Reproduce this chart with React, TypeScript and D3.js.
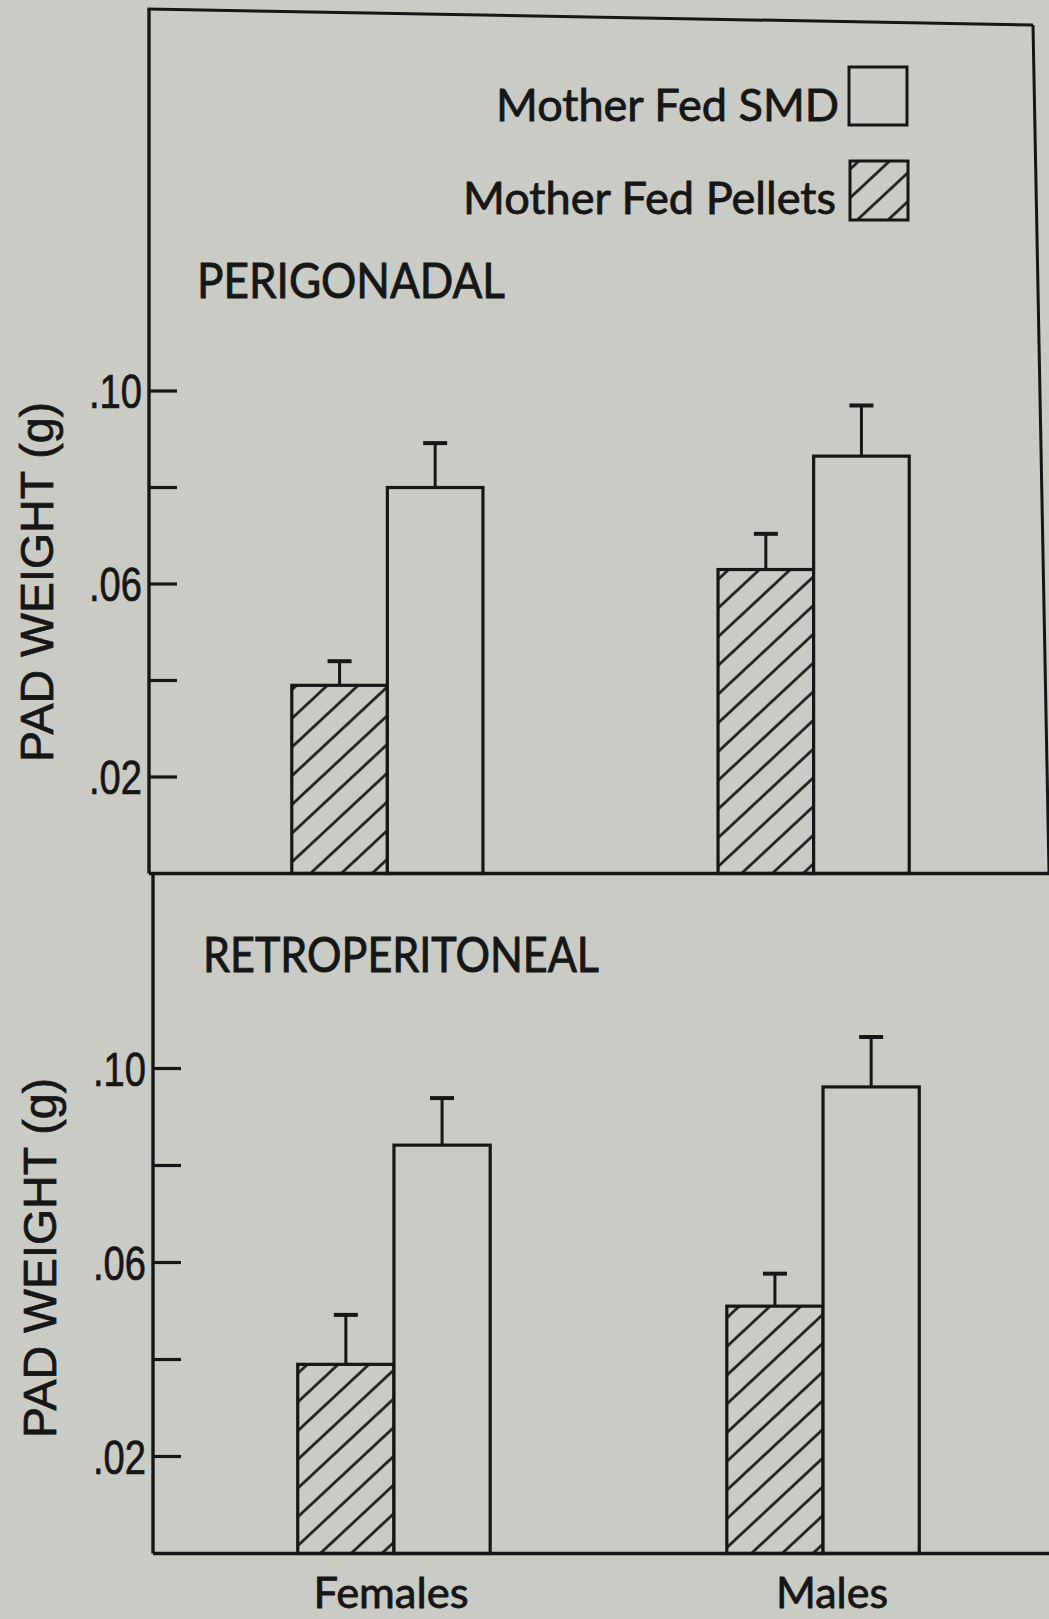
import React from "react";
import * as d3 from "d3";

// Groups and series
const categories = ["Females", "Males"];
const seriesKeys = ["pellets", "smd"];
const legendLabels = ["Mother Fed SMD", "Mother Fed Pellets"];

// Perigonadal pad weight (g), mean and SE
const periPellets = [0.039, 0.063];
const periPelletsSE = [0.005, 0.0074];
const periSMD = [0.08, 0.0865];
const periSMDSE = [0.0092, 0.0105];

// Retroperitoneal pad weight (g), mean and SE
const retroPellets = [0.039, 0.051];
const retroPelletsSE = [0.0102, 0.0067];
const retroSMD = [0.0842, 0.0962];
const retroSMDSE = [0.0097, 0.0103];

// Axis ticks
const yTicks = [0.02, 0.04, 0.06, 0.08, 0.1];
const yTickLabels = [".02", "", ".06", "", ".10"];

const W = 1049;
const H = 1619;
const BG = "#cacbc4";
const INK = "#161616";
const SANS = "Lato, 'Open Sans', sans-serif";

type Panel = {
  title: string;
  titleX: number;
  titleY: number;
  titleLen: number;
  pellets: number[];
  pelletsSE: number[];
  smd: number[];
  smdSE: number[];
  yRange: [number, number];
  xRange: [number, number];
  axisX: number;
  axisTop: number;
  labelX: number;
  labelY: number;
};

const panels: Panel[] = [
  {
    title: "PERIGONADAL",
    titleX: 197,
    titleY: 298,
    titleLen: 308,
    pellets: periPellets,
    pelletsSE: periPelletsSE,
    smd: periSMD,
    smdSE: periSMDSE,
    yRange: [873.5, 391],
    xRange: [148, 1053],
    axisX: 149,
    axisTop: 9,
    labelX: 53,
    labelY: 582,
  },
  {
    title: "RETROPERITONEAL",
    titleX: 203,
    titleY: 972,
    titleLen: 396,
    pellets: retroPellets,
    pelletsSE: retroPelletsSE,
    smd: retroSMD,
    smdSE: retroSMDSE,
    yRange: [1553.5, 1068.5],
    xRange: [153, 1064],
    axisX: 153,
    axisTop: 873.5,
    labelX: 56,
    labelY: 1258,
  },
];

function PanelView({ p }: { p: Panel }) {
  const y = d3.scaleLinear().domain([0, 0.1]).range(p.yRange);
  const x = d3
    .scaleBand<string>()
    .domain(categories)
    .range(p.xRange)
    .paddingInner(0.5515)
    .paddingOuter(0.3373);
  const xs = d3
    .scaleBand<string>()
    .domain(seriesKeys)
    .range([0, x.bandwidth()])
    .padding(0);

  const bars = categories.flatMap((c, i) => [
    { c, key: "pellets", v: p.pellets[i], se: p.pelletsSE[i] },
    { c, key: "smd", v: p.smd[i], se: p.smdSE[i] },
  ]);

  const base = y(0);
  return (
    <g>
      <text
        x={p.titleX}
        y={p.titleY}
        fontFamily={SANS}
        fontSize={48}
        fill={INK}
        stroke={INK}
        strokeWidth={0.9}
        textLength={p.titleLen}
        lengthAdjust="spacingAndGlyphs"
      >
        {p.title}
      </text>

      {bars.map((b, i) => {
        const bx = (x(b.c) as number) + (xs(b.key) as number);
        const bw = xs.bandwidth();
        const top = y(b.v);
        const cx = bx + bw / 2;
        const eTop = y(b.v + b.se);
        return (
          <g key={i}>
            <rect
              x={bx}
              y={top}
              width={bw}
              height={base - top}
              fill={b.key === "pellets" ? "url(#hatch)" : BG}
              stroke={INK}
              strokeWidth={3.2}
            />
            <line x1={cx} x2={cx} y1={top} y2={eTop} stroke={INK} strokeWidth={3} />
            <line x1={cx - 12} x2={cx + 12} y1={eTop} y2={eTop} stroke={INK} strokeWidth={4} />
          </g>
        );
      })}

      {/* y axis ticks point inward */}
      {yTicks.map((t, i) => (
        <g key={t}>
          <line
            x1={p.axisX}
            x2={p.axisX + 28}
            y1={y(t)}
            y2={y(t)}
            stroke={INK}
            strokeWidth={3.2}
          />
          {yTickLabels[i] && (
            <text
              x={p.axisX - 7}
              y={y(t) + 17}
              textAnchor="end"
              fontFamily="'Liberation Sans Narrow', 'Liberation Sans', Arial, sans-serif"
              fontSize={48}
              fill={INK}
              stroke={INK}
              strokeWidth={0.7}
              textLength={53}
              lengthAdjust="spacingAndGlyphs"
            >
              {yTickLabels[i]}
            </text>
          )}
        </g>
      ))}
      <line x1={p.axisX} x2={p.axisX} y1={p.axisTop} y2={base} stroke={INK} strokeWidth={3.4} />
      <line x1={p.axisX} x2={W} y1={base} y2={base} stroke={INK} strokeWidth={3.4} />

      <text
        transform={`translate(${p.labelX},${p.labelY}) rotate(-90)`}
        textAnchor="middle"
        fontFamily="'Liberation Sans', Arial, sans-serif"
        fontSize={46}
        fill={INK}
        stroke={INK}
        strokeWidth={0.7}
        textLength={360}
        lengthAdjust="spacingAndGlyphs"
      >
        PAD WEIGHT (g)
      </text>
    </g>
  );
}

export default function App() {
  const bottom = panels[1];
  const xb = d3
    .scaleBand<string>()
    .domain(categories)
    .range(bottom.xRange)
    .paddingInner(0.5515)
    .paddingOuter(0.3373);
  const catWidths = [155, 112];
  const catDx = [-3, 9];

  return (
    <div style={{ position: "absolute", left: 0, top: 0 }}>
      <svg width={W} height={H} style={{ display: "block" }}>
        <defs>
          <pattern
            id="hatch"
            patternUnits="userSpaceOnUse"
            width={21}
            height={21}
            patternTransform="rotate(47)"
          >
            <rect width={21} height={21} fill={BG} />
            <line x1={10.5} x2={10.5} y1={-2} y2={23} stroke={INK} strokeWidth={2.6} />
          </pattern>
        </defs>
        <rect width={W} height={H} fill={BG} />

        {/* outer frame of the upper panel */}
        <line x1={147.5} y1={9} x2={1033} y2={25} stroke={INK} strokeWidth={3} />
        <line x1={1033} y1={25} x2={1049} y2={872} stroke={INK} strokeWidth={3} />

        {panels.map((p) => (
          <PanelView key={p.title} p={p} />
        ))}

        {/* legend */}
        <rect x={849} y={67} width={58} height={58} fill={BG} stroke={INK} strokeWidth={3} />
        <rect x={850} y={161} width={58} height={59} fill="url(#hatch)" stroke={INK} strokeWidth={3} />
        <text
          x={839}
          y={121}
          textAnchor="end"
          fontFamily={SANS}
          fontSize={44}
          fill={INK}
          stroke={INK}
          strokeWidth={0.8}
          textLength={343}
          lengthAdjust="spacingAndGlyphs"
        >
          {legendLabels[0]}
        </text>
        <text
          x={836}
          y={214}
          textAnchor="end"
          fontFamily={SANS}
          fontSize={44}
          fill={INK}
          stroke={INK}
          strokeWidth={0.8}
          textLength={373}
          lengthAdjust="spacingAndGlyphs"
        >
          {legendLabels[1]}
        </text>

        {/* category labels */}
        {categories.map((c, i) => (
          <text
            key={c}
            x={(xb(c) as number) + xb.bandwidth() / 2 + catDx[i]}
            y={1608}
            textAnchor="middle"
            fontFamily={SANS}
            fontSize={42}
            fill={INK}
            stroke={INK}
            strokeWidth={0.8}
            textLength={catWidths[i]}
            lengthAdjust="spacingAndGlyphs"
          >
            {c}
          </text>
        ))}
      </svg>
    </div>
  );
}
